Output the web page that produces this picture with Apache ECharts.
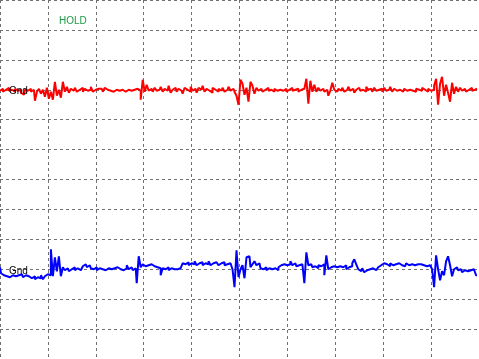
<!DOCTYPE html>
<html>
<head>
<meta charset="utf-8">
<script src="https://cdn.jsdelivr.net/npm/echarts@6/dist/echarts.min.js"></script>
<style>
html,body{margin:0;padding:0;background:#ffffff;}
#chart{width:479px;height:359px;}
</style>
</head>
<body>
<div id="chart"></div>
<script>
// Time axis: 10 divisions of 1 ms, 24 samples per division
const samplePeriod = 1 / 24;
const xTicks = [0, 1, 2, 3, 4, 5, 6, 7, 8, 9, 10];
const yTicks = [-180, -150, -120, -90, -60, -30, 0, 30, 60, 90, 120, 150, 180];

// Channel 1 (red), Gnd reference at +90
const channel1 = [
  89, 91, 88, 90, 92, 89, 90, 88, 91, 89,
  90, 87, 85, 90, 89, 91, 88, 90, 79, 88,
  91, 86, 90, 83, 92, 81, 88, 80, 98, 84,
  90, 82, 98, 88, 93, 87, 91, 89, 92, 88,
  90, 92, 88, 91, 89, 90, 93, 88, 90, 91,
  89, 91, 88, 92, 90, 89, 91, 88, 90, 92,
  89, 90, 91, 88, 90, 92, 89, 90, 88, 91,
  89, 80, 100, 88, 95, 89, 91, 88, 92, 89,
  90, 93, 88, 91, 89, 94, 87, 90, 92, 88,
  91, 89, 86, 92, 90, 88, 93, 89, 91, 87,
  92, 90, 94, 88, 91, 89, 87, 92, 90, 88,
  91, 89, 92, 88, 90, 93, 89, 91, 88, 84,
  75, 100, 96, 85, 92, 78, 98, 94, 86, 92,
  89, 91, 88, 90, 92, 89, 90, 88, 91, 89,
  90, 92, 89, 91, 88, 90, 92, 89, 90, 91,
  88, 90, 91, 92, 101, 76, 99, 88, 95, 88,
  92, 89, 91, 88, 90, 84, 89, 97, 90, 88,
  91, 89, 92, 88, 90, 93, 89, 91, 87, 90,
  92, 89, 90, 88, 93, 90, 91, 88, 92, 89,
  90, 91, 88, 92, 89, 90, 93, 88, 91, 89,
  90, 92, 88, 91, 89, 90, 92, 89, 88, 91,
  90, 89, 92, 90, 88, 91, 89, 90, 94, 101,
  75, 96, 103, 84, 95, 87, 78, 97, 86, 93,
  88, 92, 89, 91, 88, 90, 92, 89, 90, 91
];

// Channel 2 (blue), Gnd reference at -90
const channel2 = [
  -88, -94, -96, -97, -95, -98, -96, -95, -97, -96,
  -97, -95, -98, -96, -97, -95, -99, -97, -100, -98,
  -99, -96, -100, -97, -95, -96, -70, -97, -78, -92,
  -77, -97, -88, -91, -89, -92, -90, -88, -91, -89,
  -91, -90, -87, -85, -88, -86, -89, -90, -88, -91,
  -89, -90, -88, -91, -89, -87, -90, -89, -91, -88,
  -90, -88, -91, -89, -86, -90, -88, -91, -89, -104,
  -77, -88, -85, -87, -86, -88, -85, -87, -86, -88,
  -89, -96, -89, -90, -88, -91, -89, -90, -88, -90,
  -89, -87, -84, -85, -83, -86, -84, -85, -82, -86,
  -84, -83, -86, -84, -85, -82, -86, -84, -83, -85,
  -86, -84, -83, -86, -85, -84, -86, -90, -108, -71,
  -98, -90, -86, -99, -78, -77, -88, -85, -82, -86,
  -84, -89, -90, -88, -91, -89, -90, -88, -89, -91,
  -88, -86, -85, -87, -86, -85, -82, -86, -84, -87,
  -86, -85, -87, -104, -73, -86, -85, -88, -87, -89,
  -86, -87, -85, -96, -76, -90, -88, -87, -89, -88,
  -87, -89, -88, -86, -90, -88, -87, -84, -80, -85,
  -90, -92, -89, -93, -91, -90, -92, -89, -91, -90,
  -88, -86, -84, -86, -85, -87, -84, -86, -85, -87,
  -84, -86, -85, -87, -84, -86, -85, -84, -86, -85,
  -87, -85, -86, -84, -87, -86, -88, -90, -108, -76,
  -90, -101, -92, -96, -82, -77, -86, -97, -90, -88,
  -91, -90, -93, -91, -92, -94, -91, -90, -92, -96
];

const statusText = "HOLD";
const gndLabel = "Gnd";

const chart = echarts.init(document.getElementById('chart'), null, {renderer: 'canvas'});

const toPairs = arr => arr.map((v, i) => [i * samplePeriod, v]);

const gridLine = {show: true, lineStyle: {color: '#707070', width: 1, type: [3, 3]}};

chart.setOption({
  animation: false,
  backgroundColor: '#ffffff',
  grid: {left: -0.5, top: -0.5, width: 480, height: 360, containLabel: false, show: false},
  xAxis: {
    type: 'value', min: xTicks[0], max: xTicks[xTicks.length - 1], interval: 1,
    axisLine: {show: false}, axisTick: {show: false}, axisLabel: {show: false},
    splitLine: gridLine
  },
  yAxis: {
    type: 'value', min: yTicks[0], max: yTicks[yTicks.length - 1], interval: 30,
    axisLine: {show: false}, axisTick: {show: false}, axisLabel: {show: false},
    splitLine: gridLine
  },
  series: [
    {
      type: 'line', data: toPairs(channel1), showSymbol: false, symbol: 'none', step: 'middle',
      lineStyle: {color: '#ff0000', width: 2}, z: 3
    },
    {
      type: 'line', data: toPairs(channel2), showSymbol: false, symbol: 'none', step: 'middle',
      lineStyle: {color: '#0000ff', width: 2}, z: 3
    }
  ],
  graphic: [
    {type: 'text', left: 59, top: 16, z: 10,
     style: {text: statusText, fill: '#1a9a44', font: '10px "Liberation Sans", Arial, sans-serif'}},
    {type: 'text', left: 9, top: 86, z: 10,
     style: {text: gndLabel, fill: '#000000', font: '10px "Liberation Sans", Arial, sans-serif'}},
    {type: 'text', left: 9, top: 266, z: 10,
     style: {text: gndLabel, fill: '#000000', font: '10px "Liberation Sans", Arial, sans-serif'}}
  ]
});
</script>
</body>
</html>
